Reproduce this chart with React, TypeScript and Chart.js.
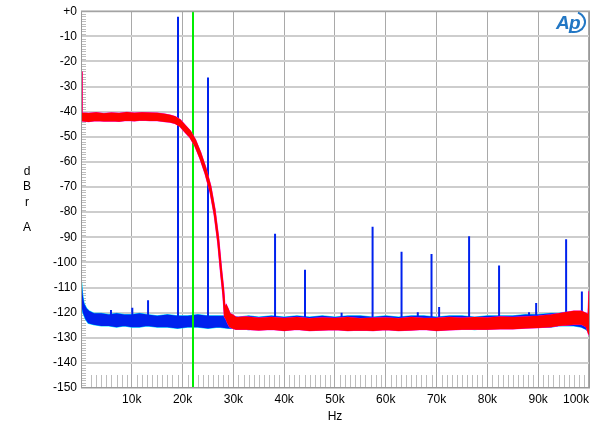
import React, { useEffect, useRef } from "react";
import { Chart, registerables } from "chart.js";

Chart.register(...registerables);

// ---------- data ----------
const yTicks = [0, -10, -20, -30, -40, -50, -60, -70, -80, -90, -100, -110, -120, -130, -140, -150];
const xTickValues = [10000, 20000, 30000, 40000, 50000, 60000, 70000, 80000, 90000, 100000];
const xTickLabels = ["10k", "20k", "30k", "40k", "50k", "60k", "70k", "80k", "90k", "100k"];

// blue trace noise floor envelope (Hz, dB)
const blueFreqs = [0, 200, 500, 1000, 1500, 2500, 4000, 5500, 7000, 8500, 10000, 11500, 13000, 15000, 17000, 19000, 21000, 23000, 25000, 27000, 29000, 31000, 33000, 35000, 37500, 40000, 42500, 45000, 47500, 50000, 52500, 55000, 57500, 60000, 62500, 65000, 67500, 70000, 72500, 75000, 77500, 80000, 82500, 85000, 87500, 90000, 92500, 94000, 95500, 97000, 98500, 99500, 100200];
const blueHi = [-108, -113, -116.5, -118.5, -119.5, -120.5, -120.5, -121, -120.5, -121, -121, -120.5, -121, -121.5, -121, -121.5, -121.5, -121, -121.5, -121.5, -121.5, -122, -121.5, -122, -121.5, -122, -121.5, -122, -121.5, -122, -121.5, -121.5, -122, -121.5, -122, -121.5, -121.5, -122, -121.5, -121.5, -122, -121.5, -121.5, -121.5, -121, -121, -120.5, -120.5, -120, -120, -120, -121, -123];
const blueLo = [-113, -117, -120, -122.5, -124, -124.5, -125, -125, -125.5, -125, -125.5, -125.5, -125, -125.5, -125.5, -126, -125.5, -125.5, -126, -125.5, -126, -126, -126.5, -126, -126, -126.5, -126, -126.5, -126, -126, -126.5, -126, -126.5, -126, -126.5, -126, -126, -126.5, -126, -126, -126.5, -126, -126, -126, -125.5, -125.5, -125.5, -125, -125, -125, -125.5, -126.5, -128];

// blue discrete tones (Hz, peak dB)
const toneFreqs = [0, 5900, 10100, 13200, 19100, 25000, 38200, 44100, 51300, 57400, 63100, 66300, 69000, 70500, 76400, 82300, 88200, 89600, 95500, 98600];
const tonePeaks = [-84, -118.9, -118.1, -115.1, -2.2, -26.4, -88.6, -102.9, -120, -85.8, -95.8, -119.8, -96.7, -117.8, -89.6, -101.2, -119.8, -116.2, -90.8, -111.6];
const toneBase = -123.5;

// red trace envelope (Hz, dB)
const redFreqs = [0, 150, 1500, 3000, 4500, 6000, 7500, 9000, 10500, 12000, 13500, 15000, 16500, 17500, 18500, 19500, 20500, 21500, 22500, 23500, 24500, 25500, 26300, 27000, 27600, 28000, 28300, 28600, 28900, 29300, 29800, 30500, 32500, 35000, 37500, 40000, 42500, 45000, 47500, 50000, 52500, 55000, 57500, 60000, 62500, 65000, 67500, 70000, 72500, 75000, 77500, 80000, 82500, 85000, 87500, 90000, 92500, 94000, 95500, 97000, 98500, 99500, 99900, 100050, 100200];
const redHi = [-24, -40.6, -40.8, -40.5, -40.9, -40.6, -40.8, -40.4, -40.7, -40.5, -40.6, -40.7, -41.1, -41.5, -42.1, -43.3, -45.6, -47.8, -51.3, -56.3, -62.3, -69.8, -78.8, -89.8, -102.8, -110.3, -118.5, -117.2, -118.5, -120.5, -121, -122, -121.8, -122.3, -122, -122.4, -122, -122.5, -122.2, -122.4, -122, -122.5, -122.3, -122.2, -122.5, -122, -122.4, -122.3, -122, -122.3, -122, -122.2, -121.8, -122, -121.8, -121.5, -121, -120.5, -120, -119.5, -119.5, -120.5, -121, -111.8, -111.8];
const redLo = [-42, -43.5, -43.8, -43.4, -43.6, -43.5, -43.7, -43.3, -43.5, -43.2, -43.4, -43.4, -43.8, -44, -44.5, -45.7, -48, -50.2, -53.7, -58.7, -64.7, -72.2, -81.2, -92.2, -105.2, -112.7, -121.5, -122.5, -124, -125.5, -126, -126.5, -126.5, -126.8, -126.5, -127, -126.5, -127, -126.8, -126.6, -127, -126.8, -127, -126.6, -127, -126.8, -126.5, -127, -126.7, -126.5, -126.5, -126.5, -126.3, -126.3, -126, -125.8, -125.5, -125, -124.8, -124.5, -124.5, -125.5, -128, -127, -126];

const filterEdgeHz = 22050;

// ---------- helpers ----------
const pts = (xs: number[], ys: number[]) => xs.map((x, i) => ({ x, y: ys[i] }));
const tonePoints = () => {
  const out: { x: number; y: number | null }[] = [];
  toneFreqs.forEach((f, i) => {
    out.push({ x: f, y: toneBase });
    out.push({ x: f, y: tonePeaks[i] });
    out.push({ x: f, y: null });
  });
  return out;
};

const FONT = "'Liberation Sans', Arial, sans-serif";

const decorPlugin = {
  id: "apDecor",
  beforeDatasetsDraw(chart: any) {
    const { ctx, chartArea: a, scales } = chart;
    const x = scales.x;
    const y = scales.y;
    ctx.save();
    ctx.strokeStyle = "#bdbdbd";
    ctx.lineWidth = 1;
    for (let v = -150; v <= 0; v += 1) {
      if (v % 10 === 0) continue;
      const py = Math.round(y.getPixelForValue(v)) + 0.5;
      ctx.beginPath();
      ctx.moveTo(a.left, py);
      ctx.lineTo(a.left + 5, py);
      ctx.stroke();
    }
    for (let v = 2000; v <= 100000; v += 1000) {
      if (v % 10000 === 0) continue;
      const px = Math.round(x.getPixelForValue(v)) + 0.5;
      ctx.beginPath();
      ctx.moveTo(px, a.bottom);
      ctx.lineTo(px, a.bottom - 13);
      ctx.stroke();
    }
    ctx.restore();
  },
  afterDraw(chart: any) {
    const { ctx, chartArea: a, scales } = chart;
    const x = scales.x;
    ctx.save();
    ctx.strokeStyle = "#9a9a9a";
    ctx.lineWidth = 1;
    ctx.strokeRect(a.left + 0.5, a.top + 0.5, a.right - a.left - 1, a.bottom - a.top - 1);
    ctx.fillStyle = "#000";
    ctx.font = `12px ${FONT}`;
    ctx.textAlign = "center";
    ctx.textBaseline = "middle";
    xTickValues.forEach((v, i) => {
      const px = Math.min(x.getPixelForValue(v), a.right - 14);
      ctx.fillText(xTickLabels[i], px, 400);
    });
    ctx.fillText("Hz", 335, 417);
    ctx.fillText("d", 27, 172);
    ctx.fillText("B", 27, 187);
    ctx.fillText("r", 27, 203);
    ctx.fillText("A", 27, 228);
    ctx.fillStyle = "#2277c4";
    ctx.font = `italic bold 19px ${FONT}`;
    ctx.textAlign = "left";
    ctx.textBaseline = "alphabetic";
    ctx.fillText("A", 556, 29);
    ctx.fillText("p", 569, 29);
    ctx.strokeStyle = "#2277c4";
    ctx.lineWidth = 2;
    ctx.beginPath();
    ctx.ellipse(574, 22, 11, 10, 0, -1.2, 1.9);
    ctx.stroke();
    ctx.restore();
  },
};

export default function App() {
  const ref = useRef<HTMLCanvasElement | null>(null);
  useEffect(() => {
    document.body.style.margin = "0";
    const canvas = ref.current;
    if (!canvas) return;
    const chart = new Chart(canvas, {
      type: "line",
      data: {
        datasets: [
          { label: "redHi", data: pts(redFreqs, redHi), borderColor: "#ff0000", borderWidth: 1.5, pointRadius: 0, fill: false, tension: 0 },
          { label: "redLo", data: pts(redFreqs, redLo), borderColor: "#ff0000", backgroundColor: "#ff0000", borderWidth: 1.5, pointRadius: 0, fill: 0, tension: 0 },
          { label: "magHi", data: pts(redFreqs, redHi), borderColor: "#ff00ff", borderWidth: 2, pointRadius: 0, fill: false },
          { label: "magLo", data: pts(redFreqs, redLo), borderColor: "#ff00ff", borderWidth: 2, pointRadius: 0, fill: false },
          { label: "green", data: [{ x: filterEdgeHz, y: 0 }, { x: filterEdgeHz, y: -150 }], borderColor: "#00ee00", borderWidth: 2, pointRadius: 0, fill: false },
          { label: "tones", data: tonePoints(), borderColor: "#0022ee", borderWidth: 2, pointRadius: 0, fill: false, spanGaps: false },
          { label: "blueHi", data: pts(blueFreqs, blueHi), borderColor: "#0022ee", borderWidth: 1.5, pointRadius: 0, fill: false },
          { label: "blueLo", data: pts(blueFreqs, blueLo), borderColor: "#0022ee", backgroundColor: "#0022ee", borderWidth: 1.5, pointRadius: 0, fill: 6 },
          { label: "cyanHi", data: pts(blueFreqs, blueHi), borderColor: "#00e5ff", borderWidth: 2.5, pointRadius: 0, fill: false },
          { label: "cyanLo", data: pts(blueFreqs, blueLo), borderColor: "#00e5ff", borderWidth: 2.5, pointRadius: 0, fill: false },
        ] as any,
      },
      options: {
        animation: false,
        responsive: false,
        layout: { padding: { top: 9, right: 10, left: 0, bottom: 0 } },
        plugins: { legend: { display: false }, tooltip: { enabled: false }, title: { display: false } },
        scales: {
          x: {
            type: "linear",
            min: 0,
            max: 100200,
            afterBuildTicks: (s: any) => {
              s.ticks = [0, ...xTickValues].map((v) => ({ value: v }));
            },
            afterFit: (s: any) => {
              s.height = 44;
            },
            ticks: { display: false },
            grid: { color: "#a9a9a9", lineWidth: 1, drawTicks: false },
            border: { display: false },
          },
          y: {
            type: "linear",
            min: -150,
            max: 0,
            afterBuildTicks: (s: any) => {
              s.ticks = yTicks.map((v) => ({ value: v }));
            },
            afterFit: (s: any) => {
              s.width = 81;
            },
            ticks: {
              color: "#000",
              font: { family: FONT, size: 12 },
              padding: 4,
              callback: (v: any) => (Number(v) === 0 ? "+0" : String(v)),
            },
            grid: { color: "#cdcdcd", lineWidth: 2, drawTicks: false },
            border: { display: false },
          },
        },
      },
      plugins: [decorPlugin],
    });
    return () => chart.destroy();
  }, []);
  return (
    <div style={{ width: 600, height: 432, background: "#fff" }}>
      <canvas ref={ref} width={600} height={432} style={{ display: "block" }} />
    </div>
  );
}
